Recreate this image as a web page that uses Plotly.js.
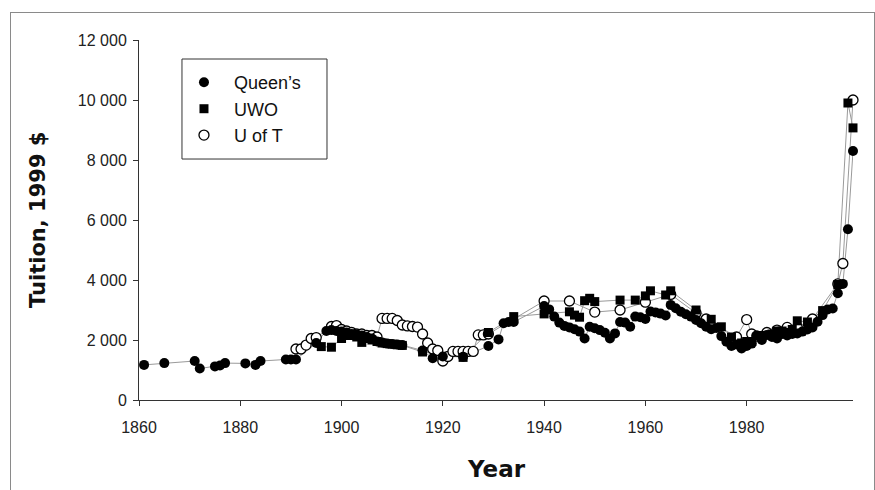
<!DOCTYPE html>
<html><head><meta charset="utf-8">
<script src="https://cdn.plot.ly/plotly-3.0.1.min.js"></script>
<style>
html,body{margin:0;padding:0;background:#fff;}
#chart{width:875px;height:490px;}
#frame{position:absolute;left:10px;top:12px;width:863px;height:500px;border:1px solid #8a8a8a;pointer-events:none;}
</style>
</head><body>
<div id="chart"></div><div id="frame"></div>
<script>
// Queen's
const qYear = [1861,1865,1871,1872,1875,1876,1877,1881,1883,1884,1889,1890,1891,1895,1897,1898,1899,1900,1901,1902,1903,1904,1905,1906,1907,1908,1909,1910,1911,1912,1916,1918,1920,1924,1929,1931,1932,1933,1934,
1940,1941,1942,1943,1944,1945,1946,1947,1948,1949,1950,1951,1952,1953,1954,1955,1956,1957,1958,1959,1960,1961,1962,1963,1964,1965,1966,1967,1968,1969,1970,1971,1972,1973,1974,1975,1976,1977,1978,1979,1980,1981,1982,1983,1984,1985,1986,1987,1988,1989,1990,1991,1992,1993,1994,1995,1996,1997,1998,1999,2000,2001];
const qVal = [1170,1230,1300,1050,1120,1150,1230,1220,1170,1300,1350,1350,1350,1900,2300,2330,2300,2280,2250,2200,2180,2150,2100,2050,1950,1920,1880,1870,1850,1830,1650,1390,1450,1440,1800,2020,2560,2600,2600,
3130,3020,2780,2580,2470,2420,2360,2280,2050,2440,2390,2330,2240,2050,2220,2600,2580,2440,2780,2760,2700,2950,2920,2880,2820,3170,3060,2940,2860,2780,2670,2560,2440,2360,2400,2130,1940,1800,1850,1720,1800,1880,2150,2000,2170,2100,2050,2200,2150,2200,2220,2280,2350,2420,2610,2830,3020,3050,3560,3870,5690,8300];
// UWO
const wYear = [1896,1898,1900,1901,1902,1903,1904,1905,1906,1907,1908,1909,1910,1911,1912,1916,1924,1929,1934,1940,1945,1946,1947,1948,1949,1950,1955,1958,1960,1961,1964,1965,1970,1973,1975,1977,1979,1980,1981,1983,1985,1986,1987,1988,1989,1990,1992,1995,1998,2000,2001];
const wVal = [1780,1760,2050,2150,2150,2100,1920,2050,2000,1950,1900,1880,1860,1840,1820,1600,1420,2250,2780,2870,2940,2830,2760,3310,3390,3280,3330,3330,3470,3640,3500,3640,3000,2690,2440,2100,1900,1950,1950,2150,2200,2300,2300,2250,2350,2640,2600,2980,3850,9900,9070];
// U of T
const tYear = [1891,1892,1893,1894,1895,1898,1899,1900,1901,1902,1903,1904,1905,1906,1907,1908,1909,1910,1911,1912,1913,1914,1915,1916,1917,1918,1919,1920,1921,1922,1923,1924,1925,1926,1927,1928,1929,1940,1945,1950,1955,1960,1965,1970,1972,1978,1980,1981,1982,1984,1986,1988,1990,1993,1998,1999,2001];
const tVal = [1700,1700,1830,2050,2080,2450,2480,2350,2300,2250,2200,2200,2150,2150,2100,2720,2720,2720,2650,2500,2470,2450,2430,2200,1900,1700,1650,1300,1450,1620,1620,1620,1620,1620,2170,2170,2200,3300,3300,2930,3000,3260,3520,2900,2700,2100,2680,2200,2130,2250,2330,2420,2420,2700,3870,4550,10000];

const seriesNames = ["Queen\u2019s", 'UWO', 'U of T'];
const xTicks = [1860,1880,1900,1920,1940,1960,1980];
const yTicks = [0,2000,4000,6000,8000,10000,12000];
const yTickText = ['0','2 000','4 000','6 000','8 000','10 000','12 000'];

const lineStyle = {color:'#9a9a9a', width:1};
const pad = s => '\u00a0\u00a0' + s;
const series = [
  {x:tYear, y:tVal, name:seriesNames[2], marker:{symbol:'circle', size:10, color:'#ffffff', line:{color:'#000', width:1.3}}},
  {x:wYear, y:wVal, name:seriesNames[1], marker:{symbol:'square', size:9, color:'#000'}},
  {x:qYear, y:qVal, name:seriesNames[0], marker:{symbol:'circle', size:10, color:'#000'}}
];
const traces = [];
series.forEach(s => traces.push({x:s.x, y:s.y, type:'scatter', mode:'lines', line:lineStyle, showlegend:false, hoverinfo:'skip', cliponaxis:false}));
series.forEach(s => traces.push({x:s.x, y:s.y, name:pad(s.name), type:'scatter', mode:'markers', marker:s.marker, cliponaxis:false}));

const tickFont = {family:'Liberation Sans, Arial, sans-serif', size:16, color:'#222'};
const layout = {
  width:875, height:490,
  margin:{l:139, r:22, t:40, b:90},
  paper_bgcolor:'#fff', plot_bgcolor:'rgba(0,0,0,0)',
  showlegend:true,
  legend:{x:0.063, y:0.933, xanchor:'left', yanchor:'top', borderwidth:0,
          bgcolor:'rgba(0,0,0,0)', traceorder:'reversed', font:{family:'Liberation Sans, Arial, sans-serif', size:18, color:'#111'}},
  shapes:[
    {type:'rect', xref:'paper', yref:'paper', x0:0.0602, x1:0.2633, y0:0.6694, y1:0.9472,
     line:{color:'#333', width:1}, fillcolor:'#fff', layer:'below'}
  ],
  xaxis:{range:[1860,2001], tickvals:xTicks, ticktext:xTicks.map(String), ticks:'outside', ticklen:5,
         tickcolor:'#333', showline:true, linecolor:'#333', linewidth:1, showgrid:false, zeroline:false,
         tickfont:tickFont, ticklabelstandoff:8, fixedrange:true},
  yaxis:{range:[0,12000], tickvals:yTicks, ticktext:yTickText, ticks:'outside', ticklen:5,
         tickcolor:'#333', showline:true, linecolor:'#333', linewidth:1, showgrid:false, zeroline:false,
         tickfont:tickFont, ticklabelstandoff:3, fixedrange:true},
  annotations:[
    {text:'<b>Tuition, 1999 $</b>', xref:'paper', yref:'paper', x:-0.1415, y:0.5, xanchor:'center', yanchor:'middle',
     textangle:-90, showarrow:false, font:{family:'DejaVu Sans, Verdana, sans-serif', size:21, color:'#111'}},
    {text:'<b>Year</b>', xref:'paper', yref:'paper', x:0.5, y:-0.192, xanchor:'center', yanchor:'middle',
     showarrow:false, font:{family:'DejaVu Sans, Verdana, sans-serif', size:23, color:'#111'}}
  ]
};
Plotly.newPlot('chart', traces, layout, {displayModeBar:false, staticPlot:true});
</script>
</body></html>
